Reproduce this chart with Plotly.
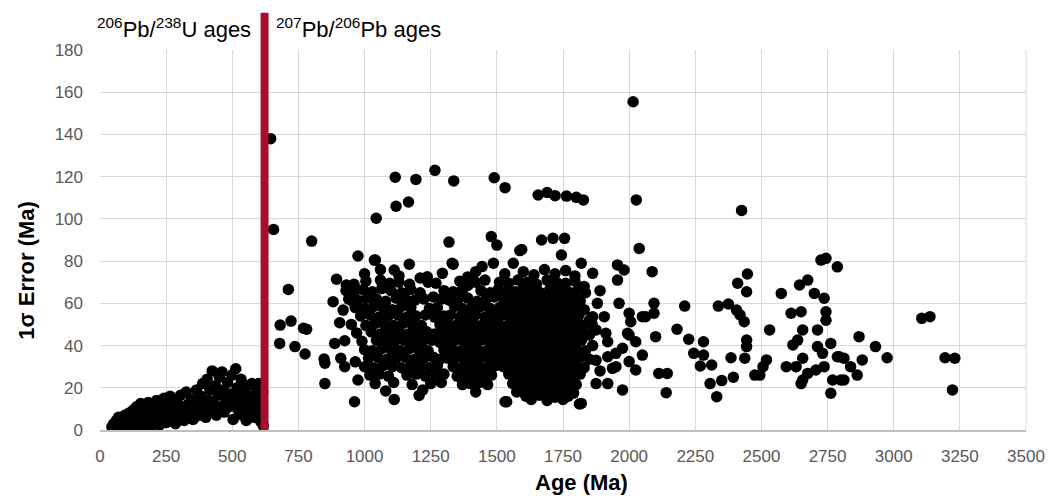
import plotly.graph_objects as go

# ---------------- data ----------------
# 206Pb/238U ages (young grains, left of the boundary)
upb_points = [
    (45,1.5),(52,3),(58,0.8),(62,4.5),(66,2),(70,6),(74,1),(78,3.5),(82,5.5),(86,0.5),
    (90,2.5),(94,7),(98,4),(102,1.5),(106,5.5),(110,8),(114,3),(118,0.8),(122,6),(126,9.5),
    (130,2.5),(134,4.5),(138,11),(142,7),(146,1.2),(150,5),(154,12.5),(158,9),(162,3),(166,6.5),
    (170,11),(174,1.5),(178,8),(182,13),(186,4.5),(190,10),(194,6),(198,2),(202,12),(206,8.5),
    (210,4),(214,14),(218,6.5),(222,10.5),(226,2.5),(230,12.5),(234,8),(238,5),(242,15),(246,10),
    (250,3.5),(255,7.5),(260,12),(265,16),(270,5),(278,9.5),(285,3),(292,13),(300,7),(305,16.5),
    (312,10.5),(318,4.5),(326,18),(332,12),(338,7.5),(345,14.5),(352,5),(358,10),(365,19),(370,13),
    (376,7),(382,16),(388,22),(394,10.5),(400,6),(405,24),(410,14),(415,19),(420,9),(424,28),
    (430,12),(436,21),(440,7),(446,16.5),(451,25),(456,11),(461,27.5),(466,19),(470,8.5),(476,14),
    (482,22.5),(488,11),(493,17),(498,26),(503,5),(508,13),(513,29),(518,20),(522,9.5),(528,15.5),
    (533,24),(538,7),(543,18.5),(548,12),(553,4.5),(558,21),(563,16),(568,9),(574,22),(579,13),
    (584,6),(590,17.5),(595,10.5),(600,22),(604,14),(608,4),(612,9),(615,18),(617,2),
]

# 207Pb/206Pb ages: scattered grains
pbpb_sparse_points = [
    (645,138),(656,95),(800,89.5),(712,66.6),(681,49.7),(722,51.6),(781,47.7),(769,48.2),(679,41),
    (737,39.5),(775,36),(847,33.6),(850,22),(962,13.4),(1112,14.5),(1206,16.4),(1531,13.4),
    (1116,119.7),(1194,118.7),(1266,123),(1337,118),(1490,119.5),(1531,114.8),(1119,106),(1166,108),
    (1044,100.3),(1319,89),(1479,91.6),(1500,87.6),(1669,90),(1712,90.8),(1756,90.8),(1594,85.5),
    (1744,82.9),(975,82.4),(1041,80.5),(1169,78.5),(1335,78.5),(894,71.4),(931,68.7),(881,60.8),
    (919,56.8),(906,50.8),(956,60.8),(887,41),(925,42.3),(910,34),(925,30),(965,32.3),(850,31.6),
    (975,23.7),(1656,111.3),(1690,112.5),(1720,111),(1763,110.8),(1800,110.2),(1827,109),
    (2015,155.5),(2027,109),(2038,86),(2425,104),
    (1819,79),(1862,74.2),(1956,78.2),(1981,75.8),(1956,71),(2087,75),
    (1962,60),(2000,55.3),(2050,53.7),(2006,51.3),(2000,45),(2025,41.8),(2050,35.5),(1975,38.7),
    (2000,32.4),(2025,28.4),(1975,19),(1862,53.7),(1906,53.7),(1919,41.8),(1950,36.3),(1937,29.2),
    (1537,13.4),(1819,12.6),(2094,60),(2094,55.3),(2062,53.7),(1912,45.8),(1875,47.4),(1850,52.1),
    (1994,45.8),(2100,44.2),(1812,12.3),(1875,33),(1919,34.7),(1950,30),(1875,22),(1919,22),
    (1862,40),(1890,28),(1850,45),(1880,60),(1890,66),
    (2112,26.8),(2144,26.8),(2140,17.7),(2210,58.7),(2181,47.7),(2225,43),(2281,41.8),(2244,36.3),
    (2281,35.5),(2269,30.3),(2312,30.8),(2306,22),(2350,23.4),(2394,25),(2331,15.8),(2385,34.2),
    (2337,58.7),(2375,59.7),(2406,56.8),(2419,54.5),(2435,51.3),(2444,42.6),(2444,39.5),(2437,34),
    (2410,69.5),(2447,73.9),(2444,65.5),
    (2531,47.4),(2506,30),(2519,33.2),(2494,26),(2475,26),(2575,64.7),
    (2612,55.3),(2650,56),(2619,40.3),(2637,42.6),(2656,47.4),(2594,30),(2631,30),(2656,34),
    (2650,22),(2675,26.8),(2644,68.7),(2675,71),(2700,64.7),(2737,62.4),(2744,56),(2744,52),
    (2712,47.4),(2725,80.5),(2744,81.3),(2787,77.3),
    (2712,39.5),(2731,36.3),(2762,41),(2787,34.7),(2706,28.4),(2737,30),(2769,23.7),(2656,23.7),
    (2762,17.4),(2794,34.7),(2800,23.7),
    (2869,44.2),(2931,39.5),(2975,34.2),(2881,33.2),(2837,30),(2862,26),(2812,23.7),(2812,34),
    (3106,52.9),(3137,53.7),(3194,34.2),(3231,34),(3222,19),
    (1037,80.5),(1112,75.8),(1237,72.6),(1294,74.2),(1331,79),(1444,77.4),(1487,79),(1562,79),
    (1587,85),
]

# 207Pb/206Pb ages: the dense main population (about 950-1860 Ma)
pbpb_core_points = [
    (1000,74),(1060,76),(1130,73),(1210,72),(1390,72.5),(1420,75),(1530,74),(1600,75),(1640,73.5),
    (1680,76),(1720,74),(1760,75.5),(1795,73),
    (960,69),(1005,70.5),(1060,71),(1095,69.5),(1130,70),(1170,69),(1240,70),(1270,69.5),(1360,70.5),
    (1390,68.5),(1420,70),(1455,71),(1510,70),(1545,69.5),(1580,71),(1615,70),(1650,69),(1690,71),
    (1725,70),(1760,69.5),(1795,70.5),(1830,68),
    (930,66),(960,65),(995,66.5),(1030,65.5),(1065,67),(1100,66),(1140,65),(1175,66.5),(1210,65),
    (1300,66),(1335,65.5),(1370,66.5),(1440,66),(1475,65),(1505,66.5),(1540,66),(1570,65.5),
    (1600,67),(1630,66),(1665,65),(1700,66.5),(1735,66),(1770,65.5),(1805,66),(1835,65),
    (940,62),(975,61.5),(1010,62.5),(1045,62),(1080,61),(1120,62.5),(1155,62),(1190,61.5),(1225,62),
    (1260,63),(1290,62),(1320,61.5),(1355,62),(1390,62.5),(1425,61),(1460,62),(1490,63),(1525,62),
    (1555,61.5),(1585,62),(1615,62.5),(1645,61.5),(1680,62),(1710,62.5),(1745,61.5),(1780,62),
    (1815,61),
    (965,58),(1000,57.5),(1035,58.5),(1070,58),(1105,57),(1140,58.5),(1175,58),(1245,57.5),
    (1275,58),(1340,58.5),(1370,57.5),(1405,58),(1440,58.5),(1475,57.5),(1510,58),(1540,58.5),
    (1570,57.5),(1600,58),(1630,58.5),(1660,57.5),(1695,58),(1725,58.5),(1760,57.5),(1795,58),
    (1830,57),
    (985,54),(1020,54.5),(1055,53.5),(1090,54),(1125,54.5),(1160,53.5),(1195,54),(1230,54.5),
    (1265,53.5),(1300,54),(1325,54.5),(1360,53.5),(1390,54),(1420,54.5),(1455,53.5),(1490,54),
    (1525,54.5),(1555,53.5),(1585,54),(1615,54.5),(1645,53.5),(1675,54),(1710,54.5),(1740,53.5),
    (1775,54),(1810,54.5),
    (950,50),(1005,49.5),(1040,50.5),(1075,50),(1110,49.5),(1145,50.5),(1180,50),(1215,49.5),
    (1285,50),(1315,50.5),(1345,49.5),(1375,50),(1410,50.5),(1440,49.5),(1470,50),(1505,50.5),
    (1540,49.5),(1570,50),(1600,50.5),(1630,49.5),(1660,50),(1690,50.5),(1725,49.5),(1755,50),
    (1790,50.5),(1825,49.5),(1860,50),
    (970,46),(1025,46.5),(1060,45.5),(1095,46),(1130,46.5),(1165,45.5),(1200,46),(1235,46.5),
    (1265,45.5),(1300,46),(1330,46.5),(1360,45.5),(1395,46),(1425,46.5),(1455,45.5),(1490,46),
    (1520,46.5),(1555,45.5),(1585,46),(1615,46.5),(1645,45.5),(1675,46),(1705,46.5),(1740,45.5),
    (1770,46),(1805,46.5),(1840,45.5),
    (990,42),(1045,42.5),(1080,41.5),(1115,42),(1150,42.5),(1185,41.5),(1220,42),(1255,42.5),
    (1285,41.5),(1315,42),(1345,42.5),(1380,41.5),(1410,42),(1440,42.5),(1475,41.5),(1505,42),
    (1540,42.5),(1570,41.5),(1600,42),(1630,42.5),(1660,41.5),(1690,42),(1720,42.5),(1755,41.5),
    (1785,42),(1820,42.5),
    (1000,38),(1030,37.5),(1065,38.5),(1100,38),(1135,37.5),(1170,38.5),(1205,38),(1240,37.5),
    (1300,38),(1330,38.5),(1365,37.5),(1395,38),(1425,38.5),(1460,37.5),(1490,38),(1525,38.5),
    (1555,37.5),(1585,38),(1615,38.5),(1645,37.5),(1675,38),(1705,38.5),(1735,37.5),(1770,38),
    (1800,38.5),(1835,37.5),
    (1015,34),(1050,34.5),(1085,33.5),(1120,34),(1155,34.5),(1190,33.5),(1225,34),(1260,34.5),
    (1285,33.5),(1315,34),(1350,34.5),(1380,33.5),(1410,34),(1445,34.5),(1475,33.5),(1510,34),
    (1540,34.5),(1570,33.5),(1600,34),(1630,34.5),(1660,33.5),(1690,34),(1720,34.5),(1750,33.5),
    (1785,34),(1815,34.5),(1850,33.5),
    (1000,30),(1035,29.5),(1070,30.5),(1105,30),(1140,29.5),(1175,30.5),(1210,30),(1245,29.5),
    (1275,30.5),(1335,30),(1365,29.5),(1395,30.5),(1430,30),(1460,29.5),(1495,30.5),(1525,30),
    (1555,29.5),(1585,30.5),(1615,30),(1645,29.5),(1675,30.5),(1705,30),(1735,29.5),(1770,30.5),
    (1800,30),(1830,29.5),
    (1020,26),(1055,26.5),(1090,25.5),(1160,26),(1195,26.5),(1230,25.5),(1265,26),(1300,26.5),
    (1350,25.5),(1380,26),(1415,26.5),(1445,25.5),(1480,26),(1545,26.5),(1575,25.5),(1605,26),
    (1635,26.5),(1665,25.5),(1695,26),(1725,26.5),(1755,25.5),(1785,26),(1815,26.5),
    (1040,22),(1110,22.5),(1180,21.5),(1250,22),(1290,22.5),(1370,21.5),(1400,22),(1435,22.5),
    (1465,21.5),(1560,22),(1590,22.5),(1620,21.5),(1650,22),(1680,22.5),(1710,21.5),(1740,22),
    (1770,22.5),(1800,21.5),
    (1080,18.5),(1220,19),(1420,18),(1575,18),(1605,17.5),(1640,18.5),(1670,18),(1700,17.5),
    (1730,18.5),(1765,18),(1790,17.5),
    (1630,14.5),(1690,14),(1750,14.5),
]

# extra grains filling the densest part of the main population (~1560-1820 Ma)
pbpb_peak_points = [
    (1585,64),(1615,64.5),(1650,63.5),(1685,64),(1720,64.5),(1755,63.5),(1790,64),
    (1570,60),(1600,60.5),(1630,59.5),(1660,60),(1695,60.5),(1730,59.5),(1765,60),(1800,60.5),
    (1555,56),(1590,56.5),(1620,55.5),(1650,56),(1685,56.5),(1715,55.5),(1750,56),(1785,56.5),
    (1575,52),(1605,52.5),(1640,51.5),(1670,52),(1700,52.5),(1735,51.5),(1770,52),(1805,52.5),
    (1560,48),(1590,48.5),(1625,47.5),(1655,48),(1690,48.5),(1720,47.5),(1755,48),(1790,48.5),
    (1580,44),(1615,44.5),(1645,43.5),(1675,44),(1705,44.5),(1740,43.5),(1770,44),(1805,44.5),
    (1565,40),(1600,40.5),(1630,39.5),(1660,40),(1690,40.5),(1720,39.5),(1750,40),(1785,40.5),
    (1575,36),(1610,36.5),(1640,35.5),(1670,36),(1700,36.5),(1730,35.5),(1765,36),(1795,36.5),
    (1560,32),(1595,32.5),(1625,31.5),(1655,32),(1690,32.5),(1720,31.5),(1750,32),(1785,32.5),
    (1580,28),(1610,28.5),(1640,27.5),(1675,28),(1705,28.5),(1740,27.5),(1770,28),(1800,28.5),
    (1575,24),(1605,24.5),(1635,23.5),(1665,24),(1695,24.5),(1725,23.5),(1760,24),(1790,24.5),
    (1590,20),(1620,20.5),(1655,19.5),(1685,20),(1715,20.5),(1750,19.5),(1780,20),
    (1610,16),(1660,16.5),(1720,15.5),(1770,16),
    (1400,44),(1460,44.5),(1440,36),(1500,40),(1370,48),
]

boundary_age = 622          # age where the method switches (red line)
x_ticks = list(range(0, 3501, 250))
y_ticks = list(range(0, 181, 20))
label_left = "<sup>206</sup>Pb/<sup>238</sup>U ages"
label_right = "<sup>207</sup>Pb/<sup>206</sup>Pb ages"

all_points = upb_points + pbpb_sparse_points + pbpb_core_points + pbpb_peak_points
ages = [p[0] for p in all_points]
errors = [p[1] for p in all_points]

# ---------------- figure ----------------
fig = go.Figure()
fig.add_trace(go.Scatter(
    x=ages, y=errors, mode="markers",
    marker=dict(color="black", size=11.5, line=dict(width=0)),
    hoverinfo="x+y", showlegend=False,
))

fig.add_shape(type="line", xref="x", yref="paper",
              x0=boundary_age, x1=boundary_age, y0=0, y1=1.098,
              line=dict(color="#A50F2D", width=8), layer="above")

label_font = dict(family="Liberation Sans, Arial", size=22, color="black")
fig.add_annotation(text=label_left, xref="paper", yref="paper",
                   x=(254 - 100) / 934, y=(430 - 28) / 380,
                   xanchor="right", yanchor="middle", showarrow=False,
                   font=label_font)
fig.add_annotation(text=label_right, xref="paper", yref="paper",
                   x=(276 - 100) / 934, y=(430 - 28) / 380,
                   xanchor="left", yanchor="middle", showarrow=False,
                   font=label_font)

fig.add_annotation(text="<b>Age (Ma)</b>", xref="paper", yref="paper",
                   x=(586 - 100) / 934, y=(430 - 482) / 380,
                   xanchor="center", yanchor="middle", showarrow=False,
                   font=dict(family="Liberation Sans, Arial", size=22, color="black"))
fig.add_annotation(text="<b>1σ Error (Ma)</b>", xref="paper", yref="paper",
                   x=(25 - 100) / 934, y=(430 - 270) / 380,
                   xanchor="center", yanchor="middle", showarrow=False, textangle=-90,
                   font=dict(family="Liberation Sans, Arial", size=22, color="black"))

axis_font = dict(family="Liberation Sans, Arial", size=17, color="#595959")
fig.update_xaxes(range=[0, 3500], tickvals=x_ticks, showgrid=True,
                 gridcolor="#d9d9d9", gridwidth=1, zeroline=False,
                 showline=True, linecolor="#bfbfbf", linewidth=2,
                 ticks="", tickfont=axis_font, ticklabelstandoff=10,
                 mirror=False)
fig.update_yaxes(range=[0, 180], tickvals=y_ticks, showgrid=True,
                 gridcolor="#d9d9d9", gridwidth=1, zeroline=False,
                 showline=False, ticks="", tickfont=axis_font,
                 ticklabelstandoff=16)
fig.add_shape(type="line", xref="paper", yref="paper", x0=1, x1=1, y0=0, y1=1,
              line=dict(color="#d9d9d9", width=1), layer="below")

fig.update_layout(width=1057, height=496,
                  margin=dict(l=100, r=23, t=50, b=66),
                  plot_bgcolor="white", paper_bgcolor="white")

fig.write_html("out.html")
